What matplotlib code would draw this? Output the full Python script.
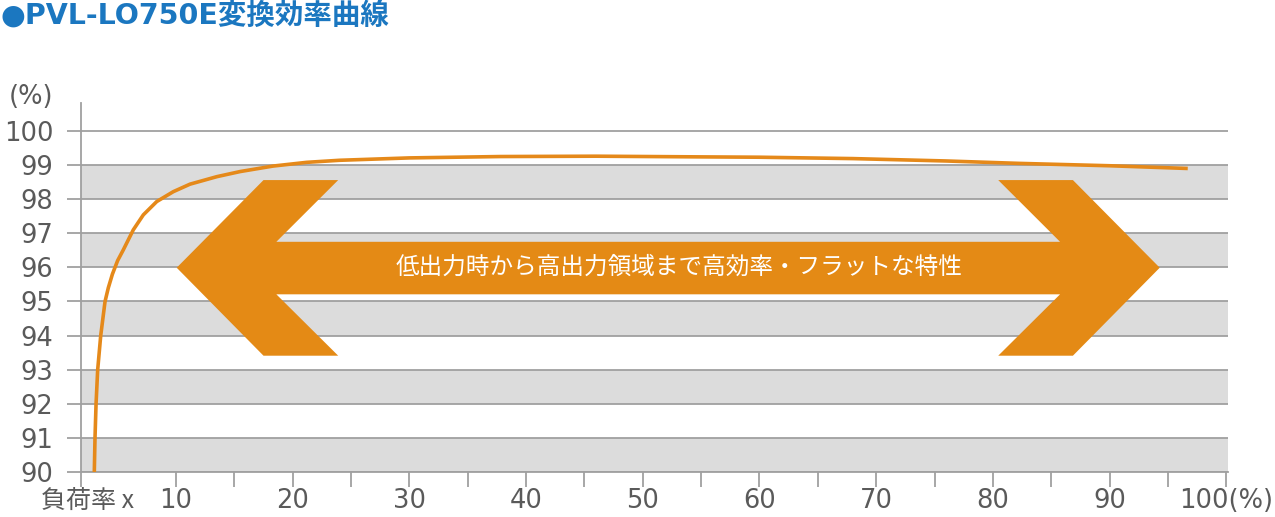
import matplotlib.pyplot as plt
from matplotlib.patches import Polygon
from matplotlib.transforms import blended_transform_factory

plt.rcParams['font.family'] = ['DejaVu Sans', 'Noto Sans CJK JP']

# efficiency curve: load rate (%) -> efficiency (%)
load_rate = [3.0, 3.06, 3.15, 3.29, 3.55, 3.92, 4.2, 4.55, 5.0, 5.48, 6.34, 7.2, 8.35,
             9.77, 11.2, 13.5, 15.5, 18.3, 21.2, 24, 30, 37.8, 46, 55,
             60, 68, 76, 82.2, 90, 96.7]
efficiency = [90.0, 91.0, 92.0, 93.0, 94.0, 95.0, 95.4, 95.8, 96.2, 96.51, 97.10, 97.54, 97.93,
              98.22, 98.44, 98.66, 98.81, 98.97, 99.08, 99.14, 99.21, 99.25, 99.26, 99.24,
              99.23, 99.19, 99.12, 99.05, 98.98, 98.9]

y_ticks = list(range(90, 101))
x_ticks = [10, 20, 30, 40, 50, 60, 70, 80, 90, 100]
x_labels = ['10', '20', '30', '40', '50', '60', '70', '80', '90', '100(%)']
x_minor = [15, 25, 35, 45, 55, 65, 75, 85, 95]

title = '●PVL-LO750E変換効率曲線'
banner = '低出力時から高出力領域まで高効率・フラットな特性'

orange = '#e5891a'
grey_txt = '#5a5a5a'
grid_c = '#a0a0a0'
fs = 18.5

fig = plt.figure(figsize=(12.75, 5.17), dpi=100)
ax = fig.add_axes([81/1275, 1-472/517, (1228-81)/1275, (472-103)/517])
ax.set_xlim(1.86, 100.15)
ax.set_ylim(90, 100.82)

# alternating grey bands
for lo in range(90, 100, 2):
    ax.axhspan(lo, lo + 1, color='#dcdcdc', zorder=0, lw=0)
for y in y_ticks:
    ax.axhline(y, color=grid_c, lw=1.3, zorder=1)

# double-headed arrow behind the text
arrow = [(10.06, 95.99), (17.5, 98.56), (23.9, 98.56), (18.6, 96.75),
         (85.76, 96.75), (80.46, 98.56), (86.86, 98.56), (94.3, 95.99),
         (86.86, 93.41), (80.46, 93.41), (85.76, 95.21), (18.6, 95.21),
         (23.9, 93.41), (17.5, 93.41)]
ax.add_patch(Polygon(arrow, closed=True, color='#e48a15', lw=0, zorder=2))
ax.text(53.1, 96.0, banner, color='white', fontsize=17, ha='center', va='center',
        family=['Noto Sans CJK JP', 'DejaVu Sans'], zorder=3)

ax.plot(load_rate, efficiency, color=orange, lw=2.6, zorder=4, solid_capstyle='butt')

for s in ['top', 'right']:
    ax.spines[s].set_visible(False)
for s in ['left', 'bottom']:
    ax.spines[s].set_color(grid_c)
    ax.spines[s].set_linewidth(1.3)

ax.set_yticks(y_ticks)
ax.set_yticklabels([str(v) for v in y_ticks])
ax.tick_params(axis='y', length=10, width=1.3, color=grid_c, pad=10,
               labelsize=fs, labelcolor=grey_txt)
ax.set_xticks(x_ticks)
ax.set_xticklabels(x_labels)
ax.set_xticks(x_minor + [1.86], minor=True)
ax.tick_params(axis='x', which='both', length=10.8, width=1.3, color=grid_c, pad=0.5,
               labelsize=fs, labelcolor=grey_txt)

tr = blended_transform_factory(ax.transData, ax.transAxes)
ax.annotate('負荷率 x', xy=(1.86, 0), xycoords=tr, xytext=(5, -11.3), textcoords='offset points',
            ha='center', va='top', fontsize=18, color=grey_txt, annotation_clip=False,
            family=['Noto Sans CJK JP', 'DejaVu Sans'])
fig.text(53/1275, 1-97/517, '(%)', ha='right', va='center', fontsize=fs, color=grey_txt)

fig.text(0.0, 1-16/517, title, ha='left', va='center', fontsize=20.5, fontweight='bold', color='#1b77c0')

fig.savefig('out.png', dpi=100)
